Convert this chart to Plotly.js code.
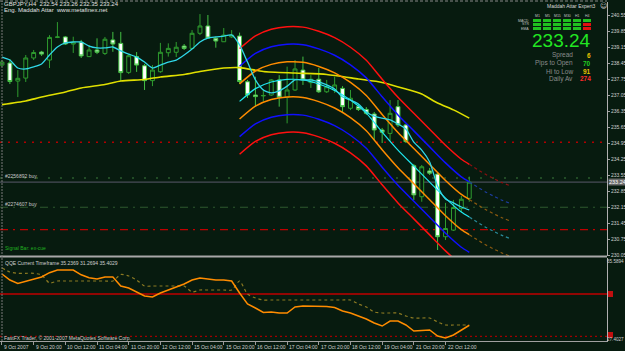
<!DOCTYPE html>
<html><head><meta charset="utf-8">
<script src="https://cdn.plot.ly/plotly-3.0.1.min.js"></script>
<style>html,body{margin:0;padding:0;background:#071b0f;}#chart{width:625px;height:351px;}</style>
</head><body><div id="chart"></div>
<script>
// ---------- DATA ----------
const tickBars = [0,4,8,12,16,20,24,28,32,36,40,44,48,52,56];
const tickLabels = ['9 Oct 2007','9 Oct 20:00','10 Oct 12:00','11 Oct 04:00','11 Oct 20:00','12 Oct 12:00','15 Oct 04:00','15 Oct 20:00','16 Oct 12:00','17 Oct 04:00','17 Oct 20:00','18 Oct 12:00','19 Oct 04:00','21 Oct 20:00','22 Oct 12:00'];

const open = [238.36,238.45,237.66,237.79,238.67,238.93,238.58,239.57,239.59,239.28,
239.36,238.73,239.02,238.87,239.46,239.31,238.04,238.73,238.33,237.68,
238.07,238.90,238.92,239.19,239.09,239.75,240.07,239.53,239.38,239.59,
239.63,237.63,237.05,237.01,237.05,237.71,236.95,237.27,238.14,237.59,
237.74,237.19,237.27,237.34,236.47,236.54,236.42,236.22,235.52,235.37,
236.54,235.74,233.96,232.60,233.73,233.59,230.85,231.14,232.09,232.53];
const high = [238.58,238.62,238.14,238.80,239.02,238.98,239.67,240.24,239.63,239.60,
239.46,239.24,239.53,239.59,239.81,239.81,238.84,238.93,238.41,238.36,
239.33,239.31,239.37,239.28,239.89,240.59,240.55,239.59,239.98,239.89,
239.78,237.71,237.85,237.31,237.75,237.92,238.29,238.58,238.73,237.92,
238.23,237.71,237.85,237.44,237.27,236.66,236.52,236.31,235.61,236.83,
236.83,235.78,234.03,233.99,233.86,233.68,232.33,232.46,232.63,233.48];
const low = [238.28,237.53,236.96,237.62,238.58,238.76,238.23,239.54,239.24,238.89,
238.67,238.71,238.84,238.80,238.94,237.66,237.97,238.06,237.27,237.44,
238.02,238.73,238.71,239.02,239.06,239.67,239.52,239.12,239.37,239.54,
237.53,236.92,236.54,236.76,237.01,236.54,235.81,237.23,237.49,237.36,
237.14,237.14,237.14,236.26,236.39,236.35,236.18,235.08,234.95,235.04,
235.65,234.95,232.46,232.38,233.55,230.27,230.71,231.10,231.93,232.38];
const close = [238.49,237.64,237.78,238.67,238.91,238.84,239.57,239.59,239.28,239.36,
238.76,239.02,238.92,239.49,239.28,238.03,238.77,238.36,237.68,238.14,
238.92,239.09,239.14,239.09,239.75,240.07,239.54,239.41,239.67,239.67,
237.64,237.05,236.98,237.03,237.71,236.95,237.27,238.19,237.71,237.74,
237.19,237.41,237.49,236.54,236.91,236.42,236.25,235.52,235.42,236.25,
235.74,235.01,232.68,233.91,233.63,230.85,231.21,232.13,232.49,233.24];

const maFast = [238.71,238.58,238.23,238.19,238.28,238.41,238.80,239.15,239.33,239.37,
239.37,239.19,239.11,239.11,239.15,238.98,238.84,238.71,238.49,238.23,
238.36,238.49,238.58,238.80,239.06,239.37,239.54,239.59,239.63,239.68,
239.24,238.49,237.71,237.27,237.14,237.23,237.44,237.71,237.71,237.71,
237.62,237.49,237.31,236.96,236.83,236.66,236.31,236.13,236.04,235.96,
235.78,235.56,234.99,234.64,234.12,233.07,232.50,232.33,232.15,232.02];

const maSlowBars = [0,3,5,8,10,13,15,18,20,23,25,28,30,33,37,41,45,48,51,53,55,57,59];
const maSlow = [236.63,236.79,236.96,237.18,237.36,237.51,237.66,237.73,237.84,237.95,238.08,238.23,238.25,238.08,238.01,237.95,237.75,237.60,237.31,237.09,236.70,236.40,236.04];

const chanBars = [30,32,34,36,38,40,42,44,46,48,50,52,54,56,58,59];
const chanMid  = [236.77,237.33,237.62,237.73,237.71,237.53,237.25,236.83,236.26,235.43,234.64,233.94,233.24,232.54,231.93,231.71];
const chanOrUp = [237.54,238.10,238.39,238.50,238.48,238.30,238.02,237.60,237.03,236.20,235.41,234.71,234.01,233.31,232.70,232.48];
const chanOrLo = [236.00,236.56,236.85,236.96,236.94,236.76,236.48,236.06,235.49,234.66,233.87,233.17,232.47,231.77,231.16,230.94];
const chanBlUp = [238.31,238.87,239.16,239.27,239.25,239.07,238.79,238.37,237.80,236.97,236.18,235.48,234.78,234.08,233.47,233.25];
const chanBlLo = [235.23,235.79,236.08,236.19,236.17,235.99,235.71,235.29,234.72,233.89,233.10,232.40,231.70,231.00,230.39,230.17];
const chanRdUp = [239.08,239.64,239.93,240.04,240.02,239.84,239.56,239.14,238.57,237.74,236.95,236.25,235.55,234.85,234.24,234.02];
const chanRdLo = [234.46,235.02,235.31,235.42,235.40,235.22,234.94,234.52,233.95,233.12,232.33,231.63,230.93,230.23,229.62,229.40];

const projBars = [59,60,61,62,63,64];
const projMid  = [231.71,231.49,231.28,231.10,230.93,230.79];
const projOrUp = [232.48,232.26,232.05,231.87,231.70,231.56];
const projOrLo = [230.94,230.72,230.51,230.33,230.16,230.02];
const projBlUp = [233.25,233.03,232.82,232.64,232.47,232.33];
const projRdUp = [234.02,233.80,233.59,233.41,233.24,233.10];

const qqeRsi = [59.45,56.61,55.00,55.95,56.90,58.03,60.06,61.34,61.34,61.34,
59.07,57.70,57.09,58.03,58.03,53.78,52.84,50.95,49.06,48.58,
50.47,51.89,53.31,54.72,56.61,57.56,57.09,56.61,56.61,56.14,
50.47,45.28,43.39,41.26,41.50,41.03,41.03,43.86,44.33,44.33,
44.33,44.10,43.62,41.97,41.03,39.61,38.19,36.30,34.88,37.25,
37.25,35.36,32.52,32.76,32.99,30.16,29.22,30.63,32.99,35.24];
const qqeTrail = [62.28,60.39,59.78,59.78,59.78,58.98,55.20,56.14,56.14,56.14,
56.14,56.14,56.14,56.14,56.14,59.21,58.50,56.61,53.78,53.78,
53.78,53.78,53.78,53.78,50.95,51.89,51.89,51.89,51.89,51.89,
56.14,50.00,48.11,47.17,47.17,47.17,47.17,47.17,47.17,47.17,
47.17,47.17,47.17,47.17,47.17,45.28,43.86,41.50,41.03,41.03,
41.03,39.61,38.66,38.66,38.66,36.77,35.36,35.36,35.36,35.36];
const qqeLevels = [50, 30];

const priceTicks = [240.55,239.85,239.15,238.45,237.75,237.05,236.35,235.65,234.95,234.25,233.55,232.85,232.15,231.45,230.75,230.05];
const tpLevel = 234.98, orderLevel1 = 233.42, bidLevel = 233.24, orderLevel2 = 232.14, slLevel = 231.16;
const orderNames = ['#2256892 buy', '#2274607 buy'];

const signalCols = ['M1','M5','M15','M30','H1','H4'];
const signalRows = ['MACD','STR','EMA'];
const signalState = [[1,1,1,1,1,1],[1,1,1,1,1,0],[1,1,1,1,1,0]];
const infoLabels = ['Spread','Pips to Open','Hi to Low','Daily Av'];
const infoValues = ['6','70','91','274'];
const infoColors = ['#e6c200','#22d022','#e6c200','#ff2a2a'];

// ---------- LAYOUT HELPERS ----------
const W=625,H=351,L=0,R=18,T=2,B=10;
const plotW=W-L-R, plotH=H-T-B;
const px = x => (x-L)/plotW;
const py = y => (H-B-y)/plotH;
const BG = '#071b0f';
const FONT = 'Liberation Sans, Arial, sans-serif';
const bars = open.map((_, i) => i);

function ann(text, x, y, size, color, xanchor, extra){
  return Object.assign({text:text, x:px(x), y:py(y), xref:'paper', yref:'paper', showarrow:false,
    xanchor:xanchor||'left', yanchor:'middle', borderpad:0,
    font:{family:FONT, size:size, color:color}}, extra||{});
}

const traces = [];
traces.push({type:'candlestick', x:bars, open:open, high:high, low:low, close:close,
  xaxis:'x', yaxis:'y', hoverinfo:'skip', whiskerwidth:0,
  increasing:{line:{color:'#2f9c2f', width:1}, fillcolor:BG},
  decreasing:{line:{color:'#44c044', width:1}, fillcolor:'#ffffff'}});

function line(x, y, color, width, dash, yaxis){
  return {type:'scatter', mode:'lines', x:x, y:y, xaxis:'x', yaxis:yaxis||'y', hoverinfo:'skip',
    line:{color:color, width:width, dash:dash||'solid', shape:'spline', smoothing:0.6}};
}
traces.push(line(maSlowBars, maSlow, '#e0e000', 1.6));
traces.push(line(chanBars, chanRdUp, '#ff1010', 1.5));
traces.push(line(chanBars, chanRdLo, '#ff1010', 1.5));
traces.push(line(chanBars, chanBlUp, '#1010ff', 1.5));
traces.push(line(chanBars, chanBlLo, '#1010ff', 1.5));
traces.push(line(chanBars, chanOrUp, '#ff8c00', 1.5));
traces.push(line(chanBars, chanOrLo, '#ff8c00', 1.5));
traces.push(line(chanBars, chanMid, '#20e8f0', 1.2));
traces.push(line(projBars, projRdUp, '#8b1010', 1.2, 'dot'));
traces.push(line(projBars, projBlUp, '#1c3c9c', 1.2, 'dot'));
traces.push(line(projBars, projOrUp, '#8c5a10', 1.2, 'dot'));
traces.push(line(projBars, projMid, '#2a8a9a', 1.2, 'dot'));
traces.push(line(projBars, projOrLo, '#8c5a10', 1.2, 'dot'));
traces.push(line(bars, maFast, '#30d8e8', 1.3));
traces.push(line(bars, qqeTrail, '#8c7a22', 1.2, 'dot', 'y2'));
traces.push(Object.assign(line(bars, qqeRsi, '#ff8c00', 1.5, 'solid', 'y2'), {line:{color:'#ff8c00', width:1.5}}));

const shapes = [];
function hline(yval, yref, color, width, dash){
  shapes.push({type:'line', xref:'paper', x0:0, x1:1, yref:yref, y0:yval, y1:yval, layer:'below',
    line:{color:color, width:width, dash:dash}});
}
hline(tpLevel, 'y', '#b00000', 1.5, '2px,6px');
hline(orderLevel1, 'y', '#3c7c3c', 1.2, '2px,10px');
hline(bidLevel, 'y', '#5a5a6a', 1, 'solid');
hline(orderLevel2, 'y', '#2f5a2f', 1, '8px,5px,2px,5px');
hline(slLevel, 'y', '#c00000', 1.2, '8px,5px,2px,5px');
hline(qqeLevels[0], 'y2', '#c00000', 1.5, 'solid');
hline(qqeLevels[1], 'y2', '#a00000', 1.3, '2px,3px');
// frame
shapes.push({type:'line', xref:'paper', yref:'paper', x0:0, x1:1, y0:py(256.5), y1:py(256.5), line:{color:'#a8a8a8', width:2}});
shapes.push({type:'line', xref:'paper', yref:'paper', x0:0, x1:1, y0:py(1), y1:py(1), line:{color:'#8a8a8a', width:1, dash:'3px,2px'}});
shapes.push({type:'line', xref:'paper', yref:'paper', x0:px(2), x1:px(2), y0:py(341), y1:py(1), line:{color:'#7a7a7a', width:1, dash:'2px,1px'}});
// signal table cells
signalRows.forEach((r, ri) => {
  signalCols.forEach((c, ci) => {
    const x0 = 533 + ci*10, y0 = 19 + ri*4;
    shapes.push({type:'rect', xref:'paper', yref:'paper', x0:px(x0), x1:px(x0+8), y0:py(y0+3), y1:py(y0),
      fillcolor: signalState[ri][ci] ? '#20c020' : '#e01010', line:{width:0}});
  });
});
// indicator level markers on right axis
[294, 335].forEach(yy => shapes.push({type:'rect', xref:'paper', yref:'paper', x0:px(608), x1:px(613), y0:py(yy+3), y1:py(yy-3), fillcolor:'#c01010', line:{width:0}}));

const annotations = [];
annotations.push(ann('GBPJPY,H4  232.54 233.26 232.35 233.24', 3, 4, 6, '#e0e0e0'));
annotations.push(ann('Eng. Maddah Attar  www.metafinex.net', 3, 10.5, 6, '#e0e0e0'));
annotations.push(ann(orderNames[0], 4, 176, 5, '#c8c8c8'));
annotations.push(ann(orderNames[1], 4, 204, 5, '#c8c8c8'));
annotations.push(ann('Signal Bar: ex-cue', 4, 248, 5, '#20b020'));
annotations.push(ann('QQE Current Timeframe 35.2369 31.2694 35.4029', 4, 263, 5, '#d0d0d0'));
annotations.push(ann('FastFX Trader, © 2001-2007 MetaQuotes Software Corp.', 3, 337.5, 5, '#d0d0d0'));
annotations.push(ann('65.5894', 624.5, 261.5, 4.6, '#d0d0d0', 'right'));
annotations.push(ann('27.4027', 624.5, 339.5, 4.6, '#d0d0d0', 'right'));
annotations.push({text:close[close.length-1].toFixed(2), x:px(608), y:close[close.length-1], xref:'paper', yref:'y',
  showarrow:false, xanchor:'left', yanchor:'middle', bgcolor:'#6a6a6a', borderpad:0,
  font:{family:FONT, size:5.5, color:'#ffffff'}});
// x-axis time labels, to the right of their tick marks
tickBars.forEach((b, k) => annotations.push({text:tickLabels[k], x:b, xref:'x', y:py(346.5), yref:'paper',
  showarrow:false, xanchor:'left', yanchor:'middle', borderpad:0, xshift:1,
  font:{family:FONT, size:5, color:'#d0d0d0'}}));
// expert panel
annotations.push(ann('Maddah Attar Expert3', 597, 6, 5, '#d8d8d8', 'right'));
annotations.push(ann('☺', 603, 6, 7, '#c8c8c8', 'center', {font:{family:'DejaVu Sans', size:7, color:'#c8c8c8'}}));
signalCols.forEach((c, ci) => annotations.push(ann(c, 537 + ci*10, 16, 3.5, '#c0c0c0', 'center')));
signalRows.forEach((r, ri) => annotations.push(ann(r, 530, 20.5 + ri*4, 3.5, '#c0c0c0', 'right')));
annotations.push(ann(close[close.length-1].toFixed(2), 592, 40.5, 19, '#22e622', 'right'));
infoLabels.forEach((lab, k) => {
  const yy = 55.5 + k*7.8;
  annotations.push(ann(lab, 574, yy, 6.5, '#8c8c8c', 'right'));
  annotations.push(ann(infoValues[k], 592, yy, 6.5, infoColors[k], 'right', {font:{family:FONT, size:6.5, color:infoColors[k], weight:'bold'}}));
});

const layout = {
  width:W, height:H, margin:{l:L, r:R, t:T, b:B},
  paper_bgcolor:BG, plot_bgcolor:BG, showlegend:false, hovermode:false,
  xaxis:{range:[-0.25, 76.39], anchor:'y2', tickvals:tickBars, showticklabels:false,
    ticks:'outside', ticklen:3, tickcolor:'#9a9a9a', showgrid:false, zeroline:false,
    showline:true, linecolor:'#a0a0a0', linewidth:1, rangeslider:{visible:false}, fixedrange:true},
  yaxis:{domain:[py(256), 1], range:[230.007, 241.119], side:'right', anchor:'x',
    tickvals:priceTicks, ticktext:priceTicks.map(v => v.toFixed(2)),
    ticks:'outside', ticklen:2, tickcolor:'#a0a0a0',
    tickfont:{family:FONT, size:5, color:'#d0d0d0'}, showgrid:false, zeroline:false,
    showline:true, linecolor:'#b0b0b0', linewidth:1, fixedrange:true},
  yaxis2:{domain:[0, py(258)], range:[27.80, 67.01], side:'right', anchor:'x',
    showticklabels:false, ticks:'', showgrid:false, zeroline:false,
    showline:true, linecolor:'#b0b0b0', linewidth:1, fixedrange:true},
  shapes:shapes, annotations:annotations
};
Plotly.newPlot('chart', traces, layout, {staticPlot:true, displayModeBar:false});
</script></body></html>
